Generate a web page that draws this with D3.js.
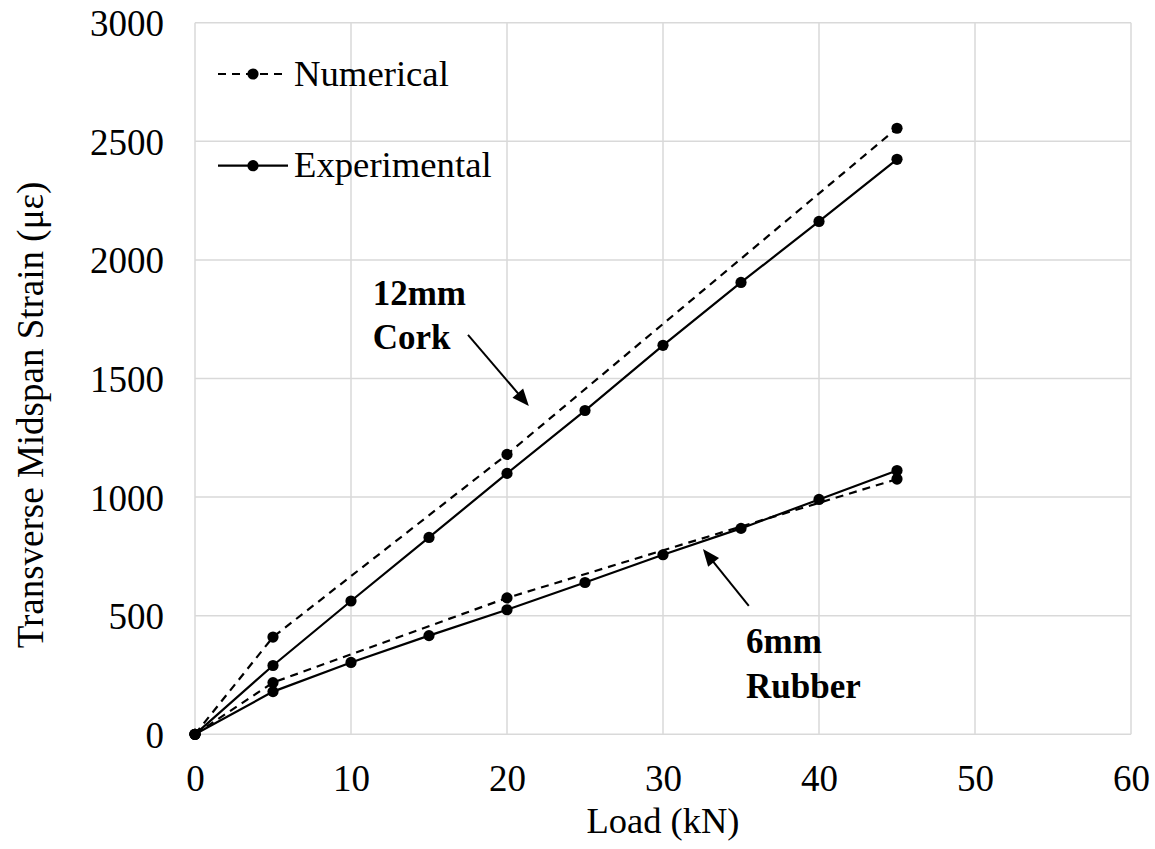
<!DOCTYPE html>
<html>
<head>
<meta charset="utf-8">
<script src="https://cdn.jsdelivr.net/npm/d3@7"></script>
<style>
  html, body { margin: 0; padding: 0; background: #fff; }
  svg { display: block; }
  svg text { font-family: "Liberation Serif", "Times New Roman", serif; fill: #000; }
</style>
</head>
<body>
<svg id="chart" width="1155" height="849"></svg>
<script>
// Load steps (kN)
const loadExp = [0, 5, 10, 15, 20, 25, 30, 35, 40, 45];
const loadNum = [0, 5, 20, 45];

// Transverse midspan strain (microstrain)
const corkExperimental   = [0, 290, 562, 830, 1100, 1365, 1640, 1905, 2162, 2424];
const corkNumerical      = [0, 410, 1180, 2555];
const rubberExperimental = [0, 180, 303, 416, 525, 640, 757, 868, 990, 1112];
const rubberNumerical    = [0, 218, 575, 1076];

const xTicks = [0, 10, 20, 30, 40, 50, 60];
const yTicks = [0, 500, 1000, 1500, 2000, 2500, 3000];

const FONT = '"Liberation Serif", "Times New Roman", serif';

const svg = d3.select("#chart");
const plot = { left: 195, right: 1131, top: 22.7, bottom: 734.3 };

const x = d3.scaleLinear().domain([0, 60]).range([plot.left, plot.right]);
const y = d3.scaleLinear().domain([0, 3000]).range([plot.bottom, plot.top]);

const gridColor = "#d9d9d9";

// grid (includes the frame lines at the domain limits)
const grid = svg.append("g");
grid.selectAll("line.v").data(xTicks).join("line")
  .attr("x1", d => x(d)).attr("x2", d => x(d))
  .attr("y1", plot.top).attr("y2", plot.bottom)
  .attr("stroke", gridColor).attr("stroke-width", 1.5);
grid.selectAll("line.h").data(yTicks).join("line")
  .attr("x1", plot.left).attr("x2", plot.right)
  .attr("y1", d => y(d)).attr("y2", d => y(d))
  .attr("stroke", gridColor).attr("stroke-width", 1.5);

// axes (labels only; lines come from the grid)
const fmt = d3.format("d");
const xAxis = d3.axisBottom(x).tickValues(xTicks).tickFormat(fmt).tickSize(0).tickPadding(0);
const gx = svg.append("g").attr("transform", `translate(0,${plot.bottom})`).call(xAxis)
  .attr("font-family", FONT).attr("font-size", 37);
gx.select(".domain").remove();
gx.selectAll("text").attr("y", 57).attr("dy", null).attr("fill", "#000");

const yAxis = d3.axisLeft(y).tickValues(yTicks).tickFormat(fmt).tickSize(0).tickPadding(0);
const gy = svg.append("g").attr("transform", `translate(${plot.left},0)`).call(yAxis)
  .attr("font-family", FONT).attr("font-size", 37);
gy.select(".domain").remove();
gy.selectAll("text").attr("x", -31).attr("dy", "13px").attr("fill", "#000");

// axis titles
svg.append("text").attr("x", (plot.left + plot.right) / 2).attr("y", 833)
  .attr("text-anchor", "middle").attr("font-family", FONT).attr("font-size", 36.5).text("Load (kN)");
svg.append("text").attr("transform", "translate(43,415) rotate(-90)")
  .attr("text-anchor", "middle").attr("font-family", FONT).attr("font-size", 37)
  .text("Transverse Midspan Strain (με)");

// series
const series = [
  { xs: loadNum, ys: corkNumerical,      dash: "8,6" },
  { xs: loadExp, ys: corkExperimental,   dash: null },
  { xs: loadNum, ys: rubberNumerical,    dash: "8,6" },
  { xs: loadExp, ys: rubberExperimental, dash: null }
];
const line = d3.line().x(d => x(d[0])).y(d => y(d[1]));

series.forEach(s => {
  const pts = s.xs.map((v, i) => [v, s.ys[i]]);
  svg.append("path").datum(pts).attr("d", line)
    .attr("fill", "none").attr("stroke", "#000").attr("stroke-width", 2.2)
    .attr("stroke-dasharray", s.dash);
});
series.forEach(s => {
  const pts = s.xs.map((v, i) => [v, s.ys[i]]);
  svg.append("g").selectAll("circle").data(pts).join("circle")
    .attr("cx", d => x(d[0])).attr("cy", d => y(d[1])).attr("r", 5.6).attr("fill", "#000");
});

// legend
const legend = [
  { label: "Numerical", dash: "8,6", ly: 74, ty: 86 },
  { label: "Experimental", dash: null, ly: 165.7, ty: 177 }
];
legend.forEach(l => {
  svg.append("line").attr("x1", 218).attr("x2", 288).attr("y1", l.ly).attr("y2", l.ly)
    .attr("stroke", "#000").attr("stroke-width", 2.2).attr("stroke-dasharray", l.dash);
  svg.append("circle").attr("cx", 253).attr("cy", l.ly).attr("r", 5.6).attr("fill", "#000");
  svg.append("text").attr("x", 294).attr("y", l.ty)
    .attr("font-family", FONT).attr("font-size", 36.7).text(l.label);
});

// annotations (anchored in data units)
const notes = [
  { lines: ["12mm", "Cork"],   tx: 11.39, ty: [1810, 1624], from: [17.5, 1684], to: [21.4, 1384] },
  { lines: ["6mm", "Rubber"],  tx: 35.32, ty: [343, 153],   from: [35.5, 541],  to: [32.56, 781] }
];
notes.forEach(n => {
  n.lines.forEach((t, i) => {
    svg.append("text").attr("x", x(n.tx)).attr("y", y(n.ty[i]))
      .attr("font-family", FONT).attr("font-size", 35).attr("font-weight", "bold").text(t);
  });
  const x1 = x(n.from[0]), y1 = y(n.from[1]), x2 = x(n.to[0]), y2 = y(n.to[1]);
  const ang = Math.atan2(y2 - y1, x2 - x1);
  const len = 17, half = 7;
  const bx = x2 - len * Math.cos(ang), by = y2 - len * Math.sin(ang);
  svg.append("line").attr("x1", x1).attr("y1", y1)
    .attr("x2", bx + 2 * Math.cos(ang)).attr("y2", by + 2 * Math.sin(ang))
    .attr("stroke", "#000").attr("stroke-width", 2);
  const p = [
    [x2, y2],
    [bx + half * Math.sin(ang), by - half * Math.cos(ang)],
    [bx - half * Math.sin(ang), by + half * Math.cos(ang)]
  ];
  svg.append("polygon").attr("points", p.map(q => q.join(",")).join(" ")).attr("fill", "#000");
});
</script>
</body>
</html>
